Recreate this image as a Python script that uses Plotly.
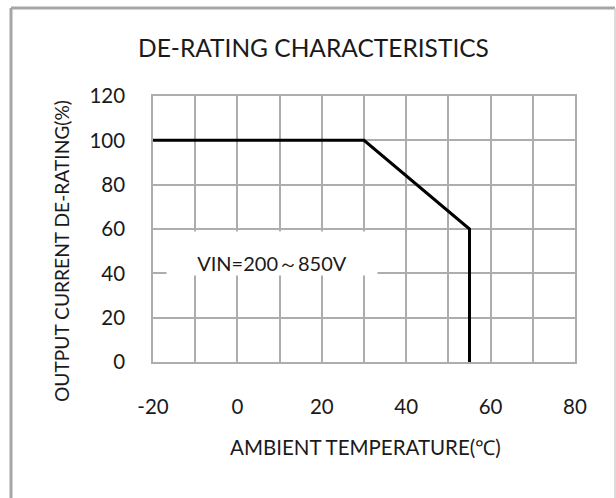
import plotly.graph_objects as go

# Data
temp = [-20, 30, 55, 55]
derating = [100, 100, 60, 0]
x_ticks = [-20, 0, 20, 40, 60, 80]
x_tick_labels = ["-20", "0", "20", "40", "60", "80"]
y_ticks = [0, 20, 40, 60, 80, 100, 120]
y_tick_labels = ["0", "20", "40", "60", "80", "100", "120"]
title_text = "DE-RATING CHARACTERISTICS"
x_title = "AMBIENT TEMPERATURE(℃)"
y_title = "OUTPUT CURRENT DE-RATING(%)"
note_text = "VIN=200～850V"

W, H = 616, 498
L, R, T, B = 153, 575, 96, 362
pw, ph = R - L, B - T

def px(x):
    return (x - L) / pw

def py(y):
    return (B - y) / ph

FONT = "Lato"
GRID = "#adadad"
TXT = "#1a1a1a"

fig = go.Figure()
fig.add_trace(go.Scatter(x=temp, y=derating, mode="lines",
                         line=dict(color="black", width=3), hoverinfo="skip",
                         showlegend=False))

fig.update_layout(
    width=W, height=H,
    margin=dict(l=L, r=W - R, t=T, b=H - B),
    paper_bgcolor="white", plot_bgcolor="white",
    font=dict(family=FONT, color=TXT),
    showlegend=False,
)
fig.update_xaxes(range=[-20, 80], tickvals=x_ticks, ticktext=x_tick_labels,
                 showgrid=True, gridcolor=GRID, gridwidth=1.5,
                 minor=dict(dtick=10, showgrid=True, gridcolor=GRID, gridwidth=1.5),
                 showline=True, linecolor=GRID, linewidth=1.5, mirror=True,
                 zeroline=False, ticks="", tickfont=dict(size=20.5, color=TXT),
                 ticklabelstandoff=26, fixedrange=True)
fig.update_yaxes(range=[0, 120], tickvals=y_ticks, ticktext=y_tick_labels,
                 showgrid=True, gridcolor=GRID, gridwidth=1.5,
                 showline=True, linecolor=GRID, linewidth=1.5, mirror=True,
                 zeroline=False, ticks="", tickfont=dict(size=20.5, color=TXT),
                 ticklabelstandoff=22, fixedrange=True)

# white box behind note
fig.add_annotation(text=note_text, xref="paper", yref="paper",
                   x=px(272), y=py(253.5), xanchor="center", yanchor="middle",
                   width=210, height=43, valign="bottom", bgcolor="white",
                   borderpad=0, showarrow=False, font=dict(size=20, color=TXT))

fig.add_annotation(text=title_text, xref="paper", yref="paper", x=px(313), y=py(47),
                   xanchor="center", yanchor="middle", showarrow=False,
                   font=dict(size=24.5, color=TXT))
fig.add_annotation(text=x_title, xref="paper", yref="paper", x=px(365), y=py(447),
                   xanchor="center", yanchor="middle", showarrow=False,
                   font=dict(size=20.5, color=TXT))
fig.add_annotation(text=y_title, xref="paper", yref="paper", x=px(62), y=py(251),
                   xanchor="center", yanchor="middle", textangle=-90, showarrow=False,
                   font=dict(size=19.2, color=TXT))

# outer frame
fig.add_shape(type="line", xref="paper", yref="paper", x0=px(11), x1=px(11),
              y0=py(8), y1=py(500), line=dict(color="#a6a6a6", width=3))
fig.add_shape(type="line", xref="paper", yref="paper", x0=px(11), x1=px(615),
              y0=py(8), y1=py(8), line=dict(color="#a6a6a6", width=3))
fig.add_shape(type="line", xref="paper", yref="paper", x0=px(615), x1=px(615),
              y0=py(8), y1=py(500), line=dict(color="#d0d0d0", width=1.5))

fig.write_html("out.html", config={"displayModeBar": False},
               post_script="document.body.style.margin='0';document.body.style.overflow='hidden';")
